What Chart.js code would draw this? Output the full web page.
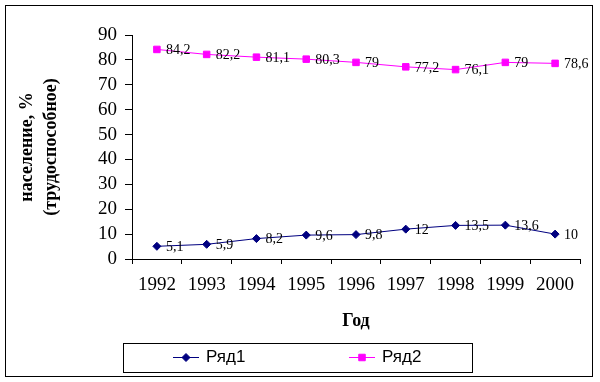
<!DOCTYPE html>
<html>
<head>
<meta charset="utf-8">
<script src="https://cdn.jsdelivr.net/npm/chart.js@4/dist/chart.umd.min.js"></script>
<style>
html,body{margin:0;padding:0;background:#fff;}
canvas{display:block;}
</style>
</head>
<body>
<canvas id="c" width="600" height="382"></canvas>
<script>
const categories = ['1992','1993','1994','1995','1996','1997','1998','1999','2000'];
const series1 = [5.1, 5.9, 8.2, 9.6, 9.8, 12, 13.5, 13.6, 10];
const series2 = [84.2, 82.2, 81.1, 80.3, 79, 77.2, 76.1, 79, 78.6];
const seriesNames = ['Ряд1', 'Ряд2'];
const yTitleLines = ['население, %', '(трудоспособное)'];
const xTitle = 'Год';

const SERIF = '"Liberation Serif", "Times New Roman", serif';
const SANS = '"Liberation Sans", Arial, sans-serif';

function fmt(v){ return String(v).replace('.', ','); }

const decor = {
  id: 'decor',
  beforeDraw(chart){
    const ctx = chart.ctx;
    ctx.save();
    ctx.fillStyle = '#fff';
    ctx.fillRect(0,0,chart.width,chart.height);
    ctx.restore();
  },
  afterDraw(chart){
    const ctx = chart.ctx;
    const ca = chart.chartArea;
    ctx.save();
    // outer border
    ctx.strokeStyle = '#000';
    ctx.lineWidth = 1;
    ctx.strokeRect(5.5, 5.5, 587, 371);

    // data labels
    ctx.font = '14px ' + SERIF;
    ctx.fillStyle = '#000';
    ctx.textAlign = 'left';
    ctx.textBaseline = 'middle';
    chart.data.datasets.forEach((ds, di) => {
      const meta = chart.getDatasetMeta(di);
      meta.data.forEach((pt, i) => {
        ctx.fillText(fmt(ds.data[i]), pt.x + 9, pt.y + 1);
      });
    });

    // y title
    ctx.font = 'bold 18px ' + SERIF;
    ctx.textAlign = 'center';
    ctx.textBaseline = 'middle';
    const cy = 147;
    ctx.save();
    ctx.translate(27, cy);
    ctx.rotate(-Math.PI/2);
    ctx.fillText(yTitleLines[0], 0, 0);
    ctx.restore();
    ctx.save();
    ctx.translate(51, cy);
    ctx.rotate(-Math.PI/2);
    ctx.fillText(yTitleLines[1], 0, 0);
    ctx.restore();

    // x title
    ctx.fillText(xTitle, (ca.left + ca.right)/2, 321);

    // legend
    ctx.lineWidth = 1;
    ctx.strokeStyle = '#000';
    ctx.strokeRect(123.5, 343.5, 349, 29);
    const items = [
      {x: 173, ds: chart.data.datasets[0]},
      {x: 349, ds: chart.data.datasets[1]}
    ];
    const ly = 357.5;
    items.forEach(it => {
      ctx.strokeStyle = it.ds.borderColor;
      ctx.fillStyle = it.ds.backgroundColor;
      ctx.lineWidth = 1;
      ctx.beginPath();
      ctx.moveTo(it.x, ly);
      ctx.lineTo(it.x + 26, ly);
      ctx.stroke();
      Chart.helpers.drawPoint(ctx, {pointStyle: it.ds.pointStyle, radius: it.ds.pointRadius, borderWidth: 1, rotation: 0}, it.x + 13, ly);
      ctx.fillStyle = '#000';
      ctx.font = '17px ' + SANS;
      ctx.textAlign = 'left';
      ctx.textBaseline = 'middle';
      ctx.fillText(it.ds.label, it.x + 33, ly);
    });
    ctx.restore();
  }
};

new Chart(document.getElementById('c'), {
  type: 'line',
  data: {
    labels: categories,
    datasets: [
      {
        label: seriesNames[0],
        data: series1,
        borderColor: '#000080',
        backgroundColor: '#000080',
        borderWidth: 1,
        pointStyle: 'rectRot',
        pointRadius: 4,
        pointBorderWidth: 1,
        tension: 0
      },
      {
        label: seriesNames[1],
        data: series2,
        borderColor: '#FF00FF',
        backgroundColor: '#FF00FF',
        borderWidth: 1,
        pointStyle: 'rect',
        pointRadius: 4.6,
        pointBorderWidth: 1,
        tension: 0
      }
    ]
  },
  options: {
    responsive: false,
    animation: false,
    layout: { padding: { left: 0, top: 35, right: 20, bottom: 0 } },
    plugins: {
      legend: { display: false },
      tooltip: { enabled: false },
      title: { display: false }
    },
    scales: {
      x: {
        type: 'category',
        offset: true,
        grid: { display: true, drawOnChartArea: false, drawTicks: true, tickLength: 5, color: '#000', offset: true },
        border: { display: true, color: '#000', width: 1 },
        ticks: { color: '#000', font: { family: SERIF, size: 19 }, padding: 10, maxRotation: 0, autoSkip: false },
        afterFit(scale){ scale.height = 123; }
      },
      y: {
        min: 0,
        max: 90,
        grid: { display: true, drawOnChartArea: false, drawTicks: true, tickLength: 7, color: '#000' },
        border: { display: true, color: '#000', width: 1 },
        ticks: { stepSize: 10, autoSkip: false, color: '#000', font: { family: SERIF, size: 19 }, padding: 8 },
        afterFit(scale){ scale.width = 132; }
      }
    }
  },
  plugins: [decor]
});
</script>
</body>
</html>
